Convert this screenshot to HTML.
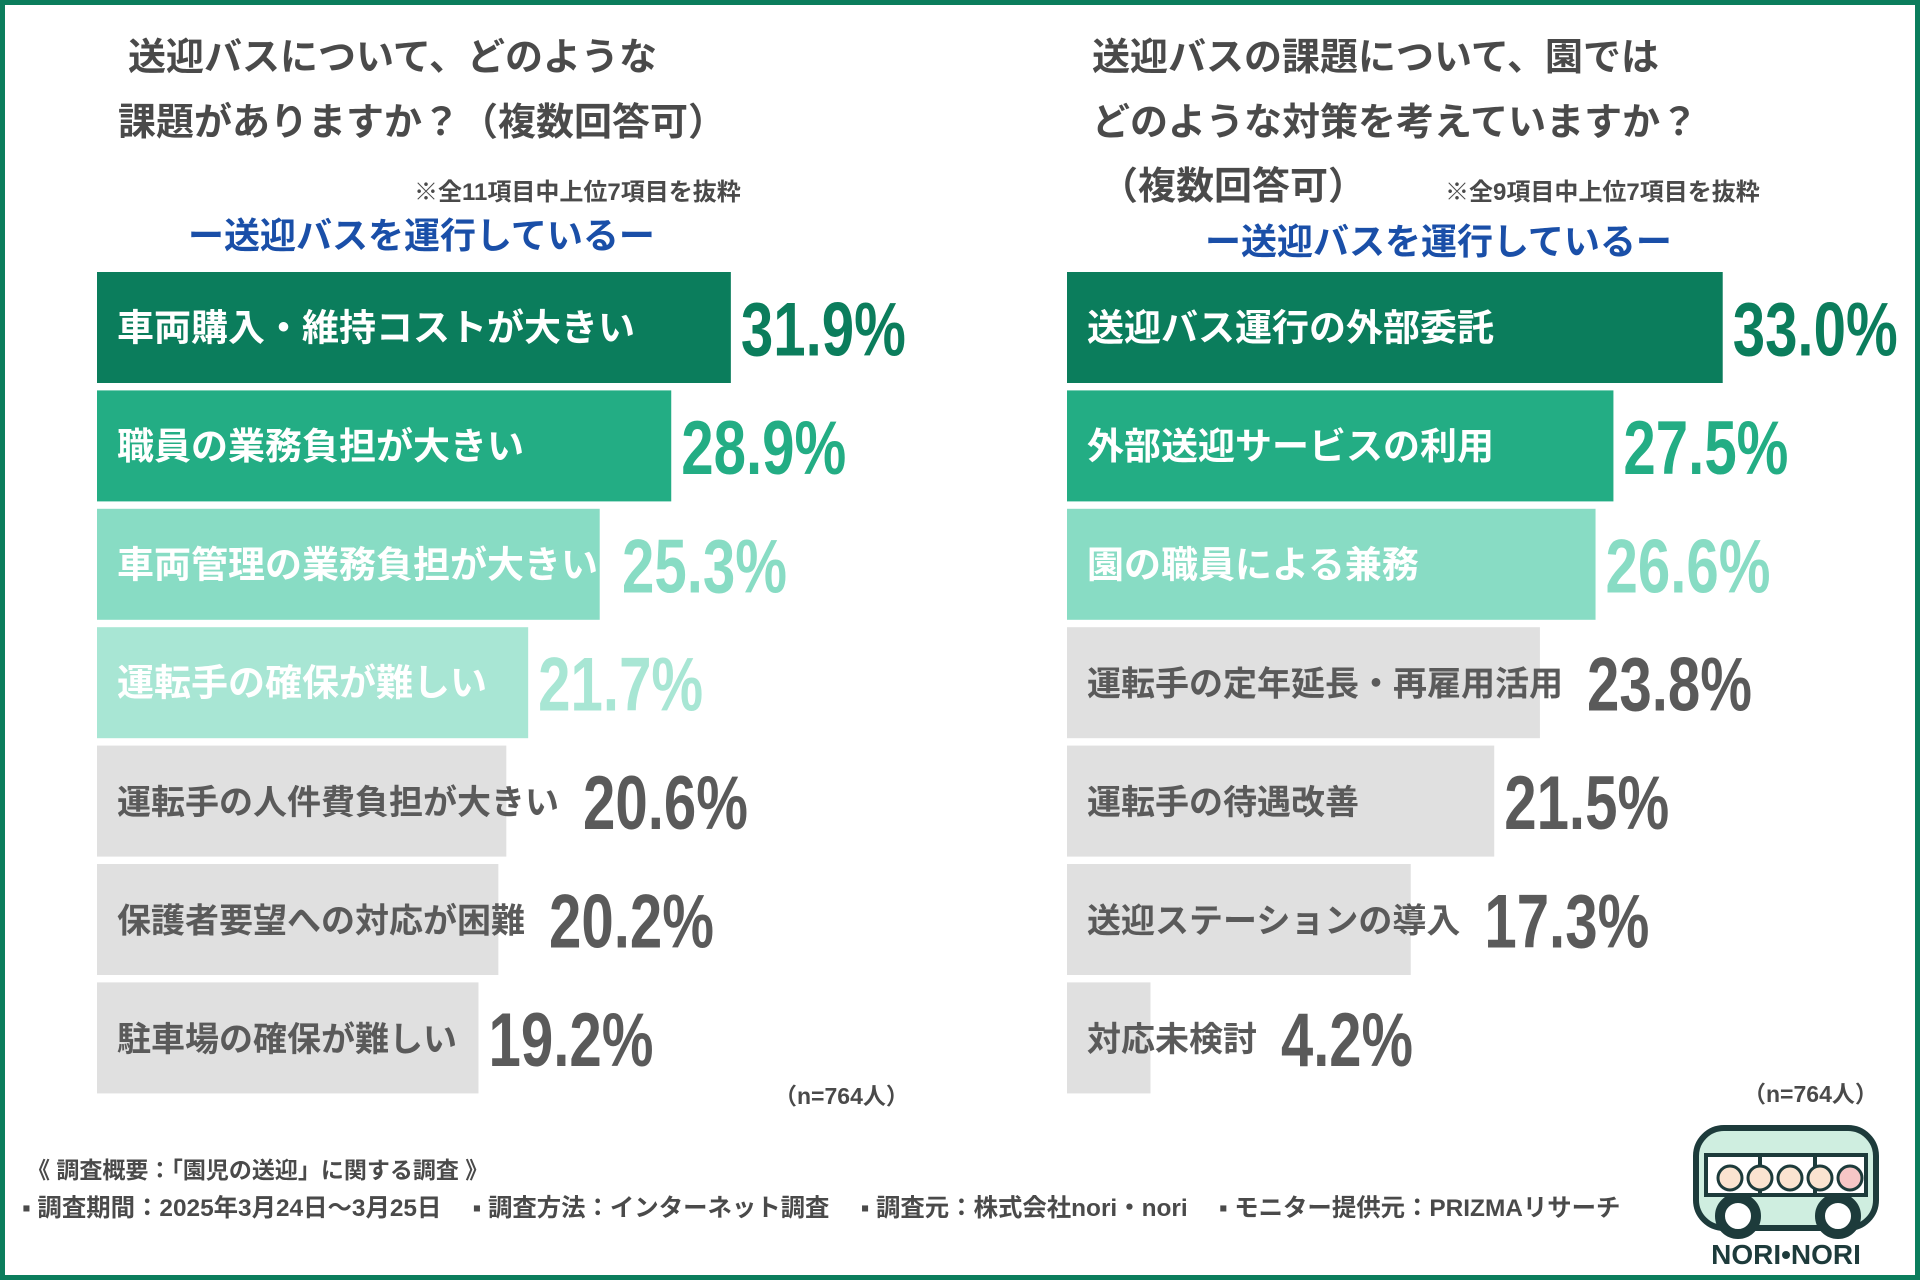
<!DOCTYPE html>
<html><head><meta charset="utf-8"><style>
html,body{margin:0;padding:0;background:#fff}
svg{display:block}
text{font-family:"Liberation Sans","Noto Sans CJK JP",sans-serif;font-weight:bold}
.num{font-family:"Liberation Sans Narrow","Liberation Sans",sans-serif}
</style></head><body>
<svg id="chart" width="1920" height="1280" viewBox="0 0 1920 1280">
<rect x="2.5" y="2.5" width="1915" height="1275" fill="#fff" stroke="#0b7d5c" stroke-width="5"/>
<g fill="#4a4a4a" font-size="38">
<text x="128" y="70">送迎バスについて、どのような</text>
<text x="118" y="135">課題がありますか？（複数回答可）</text>
<text x="1092" y="70">送迎バスの課題について、園では</text>
<text x="1092" y="135">どのような対策を考えていますか？</text>
<text x="1100" y="199">（複数回答可）</text>
</g>
<g fill="#4a4a4a" font-size="24">
<text x="414" y="200">※全11項目中上位7項目を抜粋</text>
<text x="1445" y="200">※全9項目中上位7項目を抜粋</text>
</g>
<g fill="#1a4fa8" font-size="36">
<text x="188" y="248">ー送迎バスを運行しているー</text>
<text x="1205" y="254">ー送迎バスを運行しているー</text>
</g>
<g id="left"></g>
<g id="right"></g>
<g fill="#4a4a4a" font-size="23">
<text x="774" y="1104">（n=764人）</text>
<text x="1743" y="1102">（n=764人）</text>
<text x="27" y="1178">《 調査概要：「園児の送迎」に関する調査 》</text>
<text x="22" y="1216" font-size="24.4" xml:space="preserve">▪ 調査期間：2025年3月24日〜3月25日　 ▪ 調査方法：インターネット調査　 ▪ 調査元：株式会社nori・nori　 ▪ モニター提供元：PRIZMAリサーチ</text>
</g>
<g>
<rect x="1696" y="1128" width="180" height="100" rx="28" fill="#cfeee0" stroke="#1d3b3b" stroke-width="6"/>
<rect x="1706" y="1155" width="160" height="40" fill="#fff" stroke="#1d3b3b" stroke-width="4"/>
<line x1="1760" y1="1155" x2="1760" y2="1195" stroke="#1d3b3b" stroke-width="4"/>
<line x1="1815" y1="1155" x2="1815" y2="1195" stroke="#1d3b3b" stroke-width="4"/>
<circle cx="1730" cy="1178" r="12" fill="#fbe3d0" stroke="#1d3b3b" stroke-width="3"/>
<circle cx="1760" cy="1178" r="12" fill="#fbe3d0" stroke="#1d3b3b" stroke-width="3"/>
<circle cx="1790" cy="1178" r="12" fill="#fbe3d0" stroke="#1d3b3b" stroke-width="3"/>
<circle cx="1820" cy="1178" r="12" fill="#fbe3d0" stroke="#1d3b3b" stroke-width="3"/>
<circle cx="1850" cy="1178" r="12" fill="#f6c6c6" stroke="#1d3b3b" stroke-width="3"/>
<circle cx="1738" cy="1216" r="18" fill="#fff" stroke="#1d3b3b" stroke-width="10"/>
<circle cx="1838" cy="1216" r="18" fill="#fff" stroke="#1d3b3b" stroke-width="10"/>
<text x="1786" y="1264" text-anchor="middle" font-size="28" fill="#1d3b3b">NORI•NORI</text>
</g>
</svg>
<script>
const leftCategories = ["車両購入・維持コストが大きい","職員の業務負担が大きい","車両管理の業務負担が大きい","運転手の確保が難しい","運転手の人件費負担が大きい","保護者要望への対応が困難","駐車場の確保が難しい"];
const leftValues = [31.9, 28.9, 25.3, 21.7, 20.6, 20.2, 19.2];
const rightCategories = ["送迎バス運行の外部委託","外部送迎サービスの利用","園の職員による兼務","運転手の定年延長・再雇用活用","運転手の待遇改善","送迎ステーションの導入","対応未検討"];
const rightValues = [33.0, 27.5, 26.6, 23.8, 21.5, 17.3, 4.2];
const barColors = ["#0b7d5c","#23ad84","#88dcc4","#a8e6d4","#e0e0e0"];
const NS = "http://www.w3.org/2000/svg";
const pxPerPct = 19.87;
function xLen(v){ return v * pxPerPct; }
function yTop(i){ return 272 + i * 118.4; }
function draw(gid, cats, vals, x0, colored){
  const g = document.getElementById(gid);
  cats.forEach((c, i) => {
    const fill = i < colored ? barColors[i] : barColors[4];
    const w = xLen(vals[i]), y = yTop(i), h = 111;
    const r = document.createElementNS(NS, "rect");
    r.setAttribute("x", x0); r.setAttribute("y", y); r.setAttribute("width", w); r.setAttribute("height", h);
    r.setAttribute("fill", fill);
    
    
    g.appendChild(r);
    const t = document.createElementNS(NS, "text");
    t.setAttribute("x", x0 + 20); t.setAttribute("y", y + h/2 + 13);
    t.setAttribute("font-size", i < colored ? 37 : 34);
    t.setAttribute("fill", i < colored ? "#fff" : "#5a5a5a");
    t.textContent = c;
    
    
    g.appendChild(t);
    let labelEnd = x0 + 20;
    try { labelEnd += t.getComputedTextLength(); } catch(e) { labelEnd += c.length * 35; }
    const s = vals[i].toFixed(1) + "%";
    const n = document.createElementNS(NS, "text");
    n.setAttribute("class", "num");
    n.setAttribute("x", Math.max(x0 + w + 10, labelEnd + 24)); n.setAttribute("y", y + h/2 + 28);
    n.setAttribute("font-size", 76);
    n.setAttribute("textLength", s.length * 33);
    n.setAttribute("lengthAdjust", "spacingAndGlyphs");
    n.setAttribute("fill", i < colored ? barColors[i] : "#5a5a5a");
    n.textContent = s;
    
    
    g.appendChild(n);
  });
}
draw("left", leftCategories, leftValues, 97, 4);
draw("right", rightCategories, rightValues, 1067, 3);
</script>
</body></html>
